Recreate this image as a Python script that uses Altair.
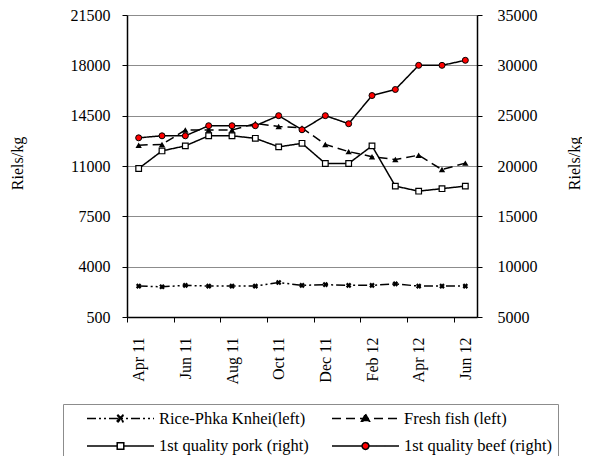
import json
import altair as alt
import pandas as pd

# ---------------- data ----------------
months = ["Apr 11", "May 11", "Jun 11", "Jul 11", "Aug 11", "Sep 11", "Oct 11", "Nov 11",
          "Dec 11", "Jan 12", "Feb 12", "Mar 12", "Apr 12", "May 12", "Jun 12"]
rice = [2650, 2600, 2700, 2650, 2650, 2650, 2900, 2700, 2750, 2700, 2700, 2800, 2650, 2650, 2650]
fish = [12450, 12500, 13500, 13500, 13500, 13950, 13750, 13650, 12500, 12000, 11650, 11450, 11750, 10750, 11200]
pork = [19750, 21500, 22000, 23000, 23000, 22750, 21900, 22250, 20250, 20250, 22000, 18000, 17500, 17750, 18000]
beef = [22800, 23000, 23000, 24000, 24000, 24000, 25000, 23600, 25000, 24200, 27000, 27600, 30000, 30000, 30500]
series_names = ["Rice-Phka Knhei(left)", "Fresh fish (left)",
                "1st quality pork (right)", "1st quality beef (right)"]
left_ticks = [500, 4000, 7500, 11000, 14500, 18000, 21500]
right_ticks = [5000, 10000, 15000, 20000, 25000, 30000, 35000]
y_title = "Riels/kg"

FONT = "Liberation Serif, Times New Roman, serif"

def frame(name, values):
    return pd.DataFrame({"idx": list(range(len(months))), "month": months,
                         "value": values, "series": name})

rice_df = frame(series_names[0], rice)
fish_df = frame(series_names[1], fish)
pork_df = frame(series_names[2], pork)
beef_df = frame(series_names[3], beef)
all_df = pd.concat([rice_df, fish_df, pork_df, beef_df], ignore_index=True)

# ---------------- geometry ----------------
W, H = 350, 302
n = len(months)
half_band = W / n / 2

tick_vals = [i - 0.5 for i in range(0, n, 2)]
label_expr = f"{json.dumps(months)}[round(datum.value + 0.5)]"

x_enc = alt.X(
    "idx:Q",
    scale=alt.Scale(domain=[-0.5, n - 0.5], nice=False, zero=False),
    axis=alt.Axis(values=tick_vals, labelExpr=label_expr, labelOffset=half_band,
                  labelAngle=270, labelAlign="right", labelBaseline="middle",
                  labelPadding=15, tickSize=5, tickColor="black", domainColor="black",
                  domainWidth=1.5, grid=False, title=None, labelFlush=False,
                  labelOverlap=False, labelBound=False, labelFont=FONT,
                  labelFontSize=16, labelColor="black"),
)

y_left = alt.Y(
    "value:Q",
    scale=alt.Scale(domain=[left_ticks[0], left_ticks[-1]], nice=False, zero=False),
    axis=alt.Axis(values=left_ticks, format="d", orient="left", grid=True, gridColor="#8c8c8c",
                  gridWidth=1, domainColor="black", domainWidth=1.5, tickColor="black",
                  tickSize=5, labelPadding=12, labelFont=FONT, labelFontSize=16,
                  labelColor="black", title=y_title, titleFont=FONT, titleFontSize=16,
                  titleFontWeight="normal", titleColor="black", titleAngle=270,
                  titleX=-110, titleY=148, titleBaseline="middle", titleAlign="center",
                  labelFlush=False),
)

y_right = alt.Y(
    "value:Q",
    scale=alt.Scale(domain=[right_ticks[0], right_ticks[-1]], nice=False, zero=False),
    axis=alt.Axis(values=right_ticks, format="d", orient="right", grid=False, domainColor="black",
                  domainWidth=1.5, tickColor="black", tickSize=5, labelPadding=15,
                  labelFont=FONT, labelFontSize=16, labelColor="black", title=y_title,
                  titleFont=FONT, titleFontSize=16, titleFontWeight="normal",
                  titleColor="black", titleAngle=270, titleX=97, titleY=148,
                  titleBaseline="middle", titleAlign="center", labelFlush=False),
)

# ---------------- styles ----------------
dash_rice = [9, 3, 2, 3, 2, 3]
dash_fish = [9, 5]
solid = [1, 0]
fills = ["black", "black", "white", "red"]
dashes = [dash_rice, dash_fish, solid, solid]

# legend symbol geometry: symbolSize 289 -> unit = 8.5 px; symbol centre sits
# 81.5 px left of the label (labelOffset 72). Coordinates below in px from that centre.
SYM_SIZE = 289
UNIT = (SYM_SIZE ** 0.5) / 2
L0, L1, MC = 9.5, 76.5, 43.0   # line start, line end, marker centre (px)

def u(v):
    return f"{v / UNIT:.3f}"

def pt(x, y):
    return f"{u(x)},{u(y)}"

ext = "M" + pt(L0 - 13, 0)
line_full = "M" + pt(L0, 0) + "L" + pt(L1, 0)
line_split = "M" + pt(L0, 0) + "L" + pt(MC - 3.5, 0) + "M" + pt(MC + 3.5, 0) + "L" + pt(L1, 0)
xm = [(-3.4, -2.4), (-2.4, -3.4), (0, -1.0), (2.4, -3.4), (3.4, -2.4), (1.0, 0), (3.4, 2.4),
      (2.4, 3.4), (0, 1.0), (-2.4, 3.4), (-3.4, 2.4), (-1.0, 0)]
xmark = "M" + "L".join(pt(MC + a, b) for a, b in xm) + "Z"
tri = "M" + pt(MC, -4.3) + "L" + pt(MC + 4, 2.7) + "L" + pt(MC - 4, 2.7) + "Z"
square = ("M" + pt(MC - 3.3, -3.3) + "L" + pt(MC + 3.3, -3.3) + "L" + pt(MC + 3.3, 3.3)
          + "L" + pt(MC - 3.3, 3.3) + "Z")
r = 3.4
circle = (f"M{pt(MC - r, 0)}A{u(r)},{u(r)},0,1,0,{pt(MC + r, 0)}"
          f"A{u(r)},{u(r)},0,1,0,{pt(MC - r, 0)}Z")
paths = [ext + line_full + xmark, ext + line_full + tri,
         ext + line_split + square, ext + line_split + circle]

legend = alt.Legend(
    title=None, orient="none", legendX=-64, legendY=389, columns=2, direction="horizontal",
    columnPadding=4, rowPadding=9.5, padding=5,
    strokeColor="#8c8c8c", fillColor="white",
    labelFont=FONT, labelFontSize=16.5, labelColor="black", labelOffset=72, labelLimit=400,
    symbolSize=SYM_SIZE, symbolStrokeWidth=1.5, symbolStrokeColor="black",
    symbolFillColor="black", symbolOpacity=1,
)

# ---------------- layers ----------------
def line(df, y, dash):
    return alt.Chart(df).mark_line(color="black", strokeWidth=1.5, strokeDash=dash).encode(x=x_enc, y=y)

rice_line = line(rice_df, y_left, dash_rice)
rice_pts = alt.Chart(rice_df).mark_point(shape="cross", angle=45, filled=True, color="black",
                                         size=32, opacity=1).encode(x=x_enc, y=y_left)
fish_line = line(fish_df, y_left, dash_fish)
fish_pts = alt.Chart(fish_df).mark_point(shape="triangle-up", filled=True, color="black",
                                         size=40, opacity=1).encode(x=x_enc, y=y_left)

legend_layer = alt.Chart(all_df).transform_filter("datum.value < 0").mark_point(
    filled=False, color="black", opacity=1
).encode(
    x=x_enc, y=y_left,
    shape=alt.Shape("series:N", scale=alt.Scale(domain=series_names, range=paths), legend=legend),
    fill=alt.Fill("series:N", scale=alt.Scale(domain=series_names, range=fills), legend=legend),
    strokeDash=alt.StrokeDash("series:N", scale=alt.Scale(domain=series_names, range=dashes),
                              legend=legend),
)

pork_line = line(pork_df, y_right, solid)
pork_pts = alt.Chart(pork_df).mark_point(shape="square", filled=True, fill="white", stroke="black",
                                         strokeWidth=1.2, size=32, opacity=1).encode(x=x_enc, y=y_right)
beef_line = line(beef_df, y_right, solid)
beef_pts = alt.Chart(beef_df).mark_point(shape="circle", filled=True, fill="#ff0000", stroke="black",
                                         strokeWidth=1, size=36, opacity=1).encode(x=x_enc, y=y_right)

left = alt.layer(rice_line, fish_line, rice_pts, fish_pts, legend_layer)
right = alt.layer(pork_line, beef_line, pork_pts, beef_pts)

chart = alt.layer(left, right).resolve_scale(y="independent").properties(
    width=W, height=H,
    autosize=alt.AutoSizeParams(type="none"),
    padding={"left": 119, "top": 7, "right": 105, "bottom": 139},
    background="white",
).configure_view(stroke=None)

chart.save("out.html", embed_options={"renderer": "svg", "actions": False})
